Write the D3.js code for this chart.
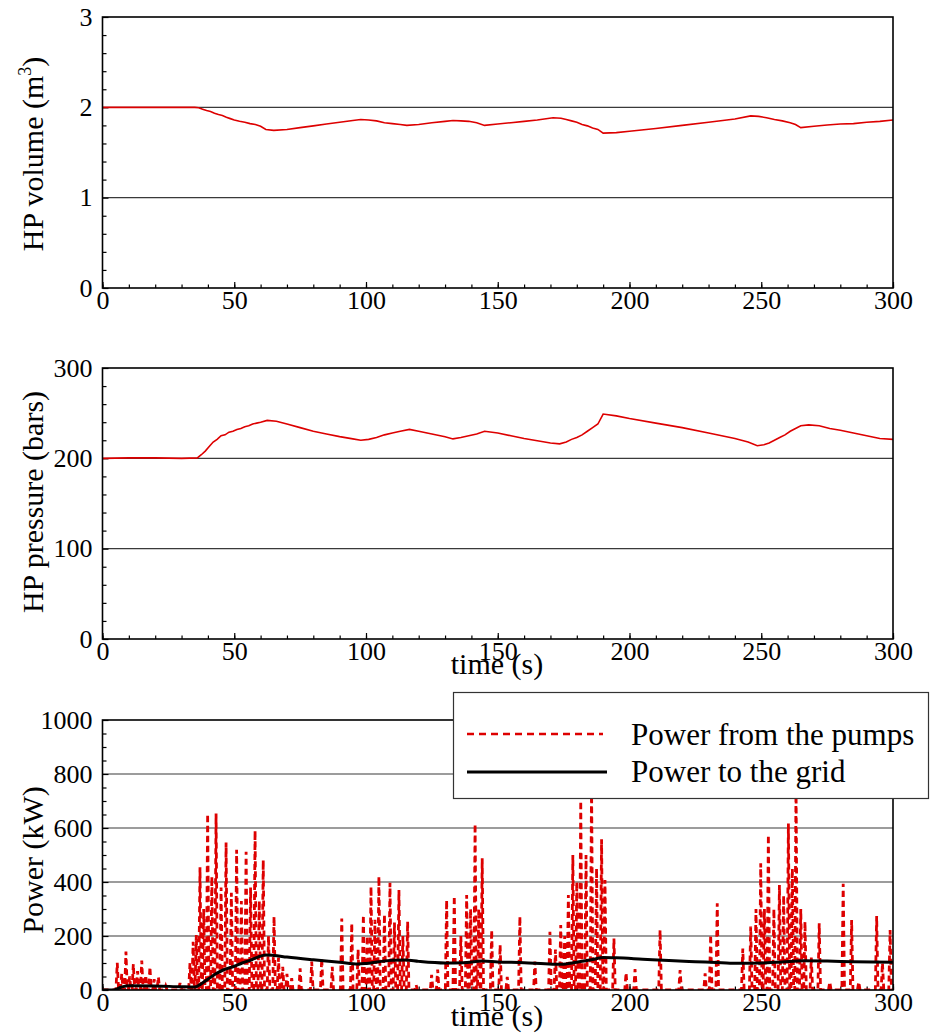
<!DOCTYPE html>
<html>
<head>
<meta charset="utf-8">
<script src="https://cdn.jsdelivr.net/npm/d3@7"></script>
<style>
  html, body { margin: 0; padding: 0; background: #fff; }
  svg { display: block; }
  text { font-family: "Liberation Serif", "Times New Roman", serif; fill: #000; }
</style>
</head>
<body>
<div id="chart"></div>
<script>
// ---------------- DATA ----------------
const xTicks = [0, 50, 100, 150, 200, 250, 300];
const volumeTicks = [0, 1, 2, 3];
const pressureTicks = [0, 100, 200, 300];
const powerTicks = [0, 200, 400, 600, 800, 1000];

// HP volume (m3) vs time (s)
const volumeTime = [0, 10, 20, 30, 35, 36.5, 38, 39.5, 41, 42.5, 44, 45.5, 47, 48.5, 50, 52, 54, 56, 58, 60, 62, 65, 70, 75, 80, 85, 90, 95, 98, 101, 104, 107, 110, 113, 115.5, 120, 125, 130, 133, 136, 139, 142, 145, 150, 155, 160, 165, 171, 174, 176, 178, 180, 182, 184, 186, 188, 190, 195, 200, 210, 220, 230, 240, 246, 249, 252, 255, 258, 261, 263, 265, 270, 275, 280, 285, 290, 295, 300];
const volumeValue = [2.0, 2.0, 2.0, 2.0, 2.0, 1.995, 1.98, 1.965, 1.955, 1.935, 1.92, 1.91, 1.89, 1.875, 1.86, 1.845, 1.835, 1.82, 1.81, 1.79, 1.755, 1.745, 1.755, 1.775, 1.795, 1.815, 1.835, 1.855, 1.865, 1.86, 1.85, 1.83, 1.82, 1.81, 1.80, 1.81, 1.83, 1.845, 1.855, 1.85, 1.845, 1.83, 1.80, 1.815, 1.83, 1.845, 1.86, 1.885, 1.88, 1.865, 1.85, 1.835, 1.81, 1.795, 1.77, 1.755, 1.715, 1.72, 1.735, 1.765, 1.80, 1.835, 1.87, 1.905, 1.90, 1.885, 1.865, 1.85, 1.83, 1.81, 1.775, 1.79, 1.805, 1.815, 1.82, 1.835, 1.845, 1.86];

// HP pressure (bars) vs time (s)
const pressureTime = [0, 10, 20, 30, 36, 37.5, 39, 40.5, 42, 43.5, 45, 46.5, 48, 49.5, 51, 52.5, 54, 55.5, 57, 58.5, 60, 62.5, 66, 70, 75, 80, 85, 90, 95, 98, 101, 104, 107, 110, 113, 116.5, 120, 125, 130, 133, 136, 139, 142, 145, 150, 155, 160, 165, 170, 173.5, 176, 178, 180, 182, 184, 186, 188, 190, 195, 200, 210, 220, 230, 240, 245, 248.5, 251, 253, 255, 257, 259, 261, 263, 265, 268, 272, 276, 280, 285, 290, 295, 300];
const pressureValue = [200, 200.5, 200.5, 200, 200.5, 204, 208, 213, 218, 221, 225, 226, 229, 230, 232, 233, 235, 236, 238, 239, 240, 242, 241, 238, 234, 230, 227, 224, 221.5, 220, 221, 223, 226, 228, 230, 232, 230, 227, 224, 221.5, 223, 225, 227, 230, 228, 225, 222, 219.5, 217, 216, 218, 221, 223, 226, 230, 234, 238, 249, 247, 244, 239, 234, 228, 222, 218, 214, 215, 217, 220, 223, 226, 230, 233, 236, 237, 236, 233, 231, 228, 225, 222, 221];

// Power to the grid (kW) vs time (s)
const gridTime = [0, 4, 7, 10, 20, 30, 35, 37, 40, 43, 46, 50, 53, 56, 59, 62, 65, 70, 80, 90, 97, 100, 105, 110, 115, 120, 130, 137, 144, 150, 160, 168, 174, 180, 186, 190, 195, 205, 215, 225, 235, 241, 250, 258, 266, 275, 285, 300];
const gridValue = [0, 0, 10, 16, 15, 12, 11, 20, 40, 60, 75, 88, 100, 110, 122, 130, 128, 122, 112, 103, 96, 98, 105, 110, 111, 106, 100, 101, 107, 104, 101, 97, 95, 103, 113, 120, 119, 114, 109, 105, 101, 99, 100, 104, 108, 107, 105, 103];

// Power from the pumps (kW): [time (s), power (kW)]
const pumpPoints = [
[0,0],
[5.1,0],[5.6,101],[6.1,0], [6.8,0],[7.3,60],[7.8,0], [8.4,0],[8.9,142],[9.4,0],
[9.8,0],[10.3,50],[10.8,0], [11.2,0],[11.7,96],[12.2,0], [12.8,0],[13.3,70],[13.8,0],
[14.4,0],[14.9,109],[15.4,0], [15.9,0],[16.4,55],[16.9,0], [17.5,0],[18,86],[18.5,0],
[19.1,0],[19.6,40],[20.1,0], [20.7,0],[21.2,49],[21.7,0], [23.5,0],[24,15],[24.5,0],
[28.9,0],[29.4,26],[29.9,0], [32.7,0],[33.2,100],[33.7,0], [33.9,0],[34.4,179],[34.9,0],
[35.1,0],[35.6,204],[36.1,0], [36.5,0],[37,455],[37.5,0], [37.9,0],[38.4,300],[38.9,0],
[39.4,0],[39.9,652],[40.4,0], [41,0],[41.5,420],[42,0], [42.6,0],[43.1,654],[43.6,0],
[44.5,0],[45,380],[45.5,0], [46.4,0],[46.9,546],[47.4,0], [48.4,0],[48.9,360],[49.4,0],
[50.4,0],[50.9,519],[51.4,0], [52.2,0],[52.7,330],[53.2,0], [54,0],[54.5,512],[55,0],
[55.7,0],[56.2,380],[56.7,0], [57.4,0],[57.9,590],[58.4,0], [59,0],[59.5,330],[60,0],
[60.5,0],[61,481],[61.5,0], [62.5,0],[63,200],[63.5,0], [64.6,0],[65.1,272],[65.6,0],
[66.3,0],[66.8,120],[67.3,0], [67.9,0],[68.4,86],[68.9,0], [69.5,0],[70,60],[70.5,0],
[71.3,0],[71.8,44],[72.3,0], [74.5,0],[75,80],[75.5,0], [78.9,0],[79.4,105],[79.9,0],
[82.7,0],[83.2,117],[83.7,0], [86.7,0],[87.2,86],[87.7,0], [90.3,0],[90.8,265],[91.3,0],
[94.1,0],[94.6,247],[95.1,0], [96.5,0],[97,150],[97.5,0], [98.5,0],[99,278],[99.5,0],
[100,0],[100.5,200],[101,0], [101.4,0],[101.9,383],[102.4,0], [102.9,0],[103.4,260],[103.9,0],
[104.4,0],[104.9,420],[105.4,0], [106.5,0],[107,280],[107.5,0], [108.6,0],[109.1,397],[109.6,0],
[110.3,0],[110.8,250],[111.3,0], [112,0],[112.5,370],[113,0], [113.5,0],[114,200],[114.5,0],
[115.3,0],[115.8,253],[116.3,0], [118.5,0],[119,20],[119.5,0], [124.4,0],[124.9,56],[125.4,0],
[126.7,0],[127.2,76],[127.7,0], [130.1,0],[130.6,333],[131.1,0], [133,0],[133.5,348],[134,0],
[135.5,0],[136,200],[136.5,0], [137.7,0],[138.2,352],[138.7,0], [139.2,0],[139.7,300],[140.2,0],
[140.9,0],[141.4,615],[141.9,0], [142.3,0],[142.8,300],[143.3,0], [143.6,0],[144.1,488],[144.6,0],
[147.2,0],[147.7,222],[148.2,0], [150.4,0],[150.9,167],[151.4,0], [153.1,0],[153.6,49],[154.1,0],
[157.9,0],[158.4,272],[158.9,0], [163.6,0],[164.1,105],[164.6,0], [169.3,0],[169.8,216],[170.3,0],
[171.4,0],[171.9,150],[172.4,0], [173.4,0],[173.9,241],[174.4,0], [174.9,0],[175.4,200],[175.9,0],
[176.3,0],[176.8,352],[177.3,0], [178,0],[178.5,500],[179,0], [179.5,0],[180,400],[180.5,0],
[181,0],[181.5,700],[182,0], [183,0],[183.5,500],[184,0], [185.1,0],[185.6,760],[186.1,0],
[187,0],[187.5,450],[188,0], [188.9,0],[189.4,558],[189.9,0], [190.2,0],[190.7,407],[191.2,0],
[193.6,0],[194.1,191],[194.6,0], [198.2,0],[198.7,64],[199.2,0], [201.6,0],[202.1,77],[202.6,0],
[211.1,0],[211.6,222],[212.1,0], [218.7,0],[219.2,74],[219.7,0], [228.2,0],[228.7,62],[229.2,0],
[230.3,0],[230.8,204],[231.3,0], [232.8,0],[233.3,321],[233.8,0], [242.5,0],[243,154],[243.5,0],
[245.5,0],[246,235],[246.5,0], [247.5,0],[248,300],[248.5,0], [249.3,0],[249.8,469],[250.3,0],
[250.7,0],[251.2,300],[251.7,0], [252.2,0],[252.7,574],[253.2,0], [254.3,0],[254.8,300],[255.3,0],
[256.4,0],[256.9,389],[257.4,0], [258,0],[258.5,350],[259,0], [259.8,0],[260.3,617],[260.8,0],
[261.3,0],[261.8,450],[262.3,0], [262.7,0],[263.2,760],[263.7,0], [264.5,0],[265,300],[265.5,0],
[266.1,0],[266.6,253],[267.1,0], [268.5,0],[269,120],[269.5,0], [271.5,0],[272,247],[272.5,0],
[275.5,0],[276,30],[276.5,0], [280.6,0],[281.1,393],[281.6,0], [283.8,0],[284.3,259],[284.8,0],
[286.5,0],[287,30],[287.5,0], [293.3,0],[293.8,274],[294.3,0], [295.5,0],[296,100],[296.5,0],
[298.4,0],[298.9,222],[299.4,0],
[300,0]
];

const legendLabels = ["Power from the pumps", "Power to the grid"];

// ---------------- DRAW ----------------
const SERIF = '"Liberation Serif", "Times New Roman", serif';
const W = 930, H = 1034;
const svg = d3.select("#chart").append("svg").attr("width", W).attr("height", H);
const left = 102.5, right = 893;
const x = d3.scaleLinear().domain([0, 300]).range([left, right]);
const xMinor = d3.range(0, 301, 10);
const fmt = d3.format("d");

function styleAxis(a) {
  a.attr("font-family", null).attr("font-size", null);
  a.select(".domain").remove();
  a.selectAll("line").attr("stroke-width", 1.2).attr("stroke", "#000");
  a.selectAll("text").attr("font-family", SERIF).attr("font-size", 26)
    .style("font-family", SERIF).style("font-size", "26px").attr("fill", "#000");
}

function panel(cfg) {
  const y = d3.scaleLinear().domain(cfg.domain).range([cfg.bottom, cfg.top]);
  const g = svg.append("g");
  g.selectAll("line.grid").data(cfg.grid).enter().append("line")
    .attr("x1", left).attr("x2", right)
    .attr("y1", d => y(d)).attr("y2", d => y(d))
    .attr("stroke", "#3a3a3a").attr("stroke-width", 1.2);
  g.append("g").attr("transform", `translate(0,${cfg.bottom})`)
    .call(d3.axisBottom(x).tickValues(xMinor).tickSize(-3.5).tickSizeOuter(0).tickFormat(""))
    .call(styleAxis);
  g.append("g").attr("transform", `translate(${left},0)`)
    .call(d3.axisLeft(y).tickValues(cfg.minor).tickSize(-4).tickSizeOuter(0).tickFormat(""))
    .call(styleAxis);
  g.append("g").attr("transform", `translate(0,${cfg.bottom})`)
    .call(d3.axisBottom(x).tickValues(xTicks).tickFormat(fmt).tickSize(-6).tickSizeOuter(0).tickPadding(3))
    .call(styleAxis);
  g.append("g").attr("transform", `translate(${left},0)`)
    .call(d3.axisLeft(y).tickValues(cfg.ticks).tickFormat(fmt).tickSize(-6).tickSizeOuter(0).tickPadding(10))
    .call(styleAxis);
  const id = "clip" + cfg.top;
  svg.append("clipPath").attr("id", id).append("rect")
    .attr("x", left).attr("y", cfg.top).attr("width", right - left).attr("height", cfg.bottom - cfg.top);
  const plot = svg.append("g").attr("clip-path", `url(#${id})`);
  svg.append("rect").attr("x", left).attr("y", cfg.top)
    .attr("width", right - left).attr("height", cfg.bottom - cfg.top)
    .attr("fill", "none").attr("stroke", "#000").attr("stroke-width", 1.6);
  const t = svg.append("text")
    .attr("transform", `translate(43,${cfg.titleY}) rotate(-90)`)
    .attr("text-anchor", "middle").style("font-size", "30px");
  cfg.title(t);
  return { y, plot };
}

// Panel 1: volume
const p1 = panel({ top: 17, bottom: 288, domain: [0, 3], ticks: volumeTicks,
  minor: d3.range(0, 3.001, 0.2).map(v => +v.toFixed(1)).filter(v => !volumeTicks.includes(v)),
  grid: [1, 2], titleY: 154,
  title: t => { t.append("tspan").text("HP volume (m");
                t.append("tspan").attr("dy", -12).style("font-size", "18px").text("3");
                t.append("tspan").attr("dy", 12).text(")"); } });
p1.plot.append("path")
  .datum(d3.zip(volumeTime, volumeValue))
  .attr("fill", "none").attr("stroke", "#dd0000").attr("stroke-width", 1.6)
  .attr("d", d3.line().x(d => x(d[0])).y(d => p1.y(d[1])));

// Panel 2: pressure
const p2 = panel({ top: 368, bottom: 639, domain: [0, 300], ticks: pressureTicks,
  minor: d3.range(0, 301, 20).filter(v => !pressureTicks.includes(v)),
  grid: [100, 200], titleY: 502,
  title: t => t.text("HP pressure (bars)") });
p2.plot.append("path")
  .datum(d3.zip(pressureTime, pressureValue))
  .attr("fill", "none").attr("stroke", "#dd0000").attr("stroke-width", 1.6)
  .attr("d", d3.line().x(d => x(d[0])).y(d => p2.y(d[1])));
svg.append("text").attr("x", 497).attr("y", 674).attr("text-anchor", "middle")
  .style("font-size", "30px").text("time (s)");

// Panel 3: power
const p3 = panel({ top: 720, bottom: 990, domain: [0, 1000], ticks: powerTicks,
  minor: d3.range(0, 1001, 50).filter(v => !powerTicks.includes(v)),
  grid: [200, 400, 600, 800], titleY: 860,
  title: t => t.text("Power (kW)") });
p3.plot.append("path")
  .datum(pumpPoints)
  .attr("fill", "none").attr("stroke", "#dd0000").attr("stroke-width", 2.8)
  .attr("stroke-dasharray", "6,4")
  .attr("d", d3.line().x(d => x(d[0])).y(d => p3.y(d[1])));
p3.plot.append("path")
  .datum(d3.zip(gridTime, gridValue))
  .attr("fill", "none").attr("stroke", "#000").attr("stroke-width", 3)
  .attr("d", d3.line().curve(d3.curveMonotoneX).x(d => x(d[0])).y(d => p3.y(d[1])));
svg.append("text").attr("x", 497).attr("y", 1026).attr("text-anchor", "middle")
  .style("font-size", "30px").text("time (s)");

// Legend
const lg = svg.append("g");
lg.append("rect").attr("x", 453.5).attr("y", 692.5).attr("width", 475).attr("height", 106)
  .attr("fill", "#fff").attr("stroke", "#333").attr("stroke-width", 1.2);
lg.append("line").attr("x1", 467).attr("x2", 603).attr("y1", 734).attr("y2", 734)
  .attr("stroke", "#dd0000").attr("stroke-width", 2.4).attr("stroke-dasharray", "7,5");
lg.append("line").attr("x1", 467).attr("x2", 607).attr("y1", 772).attr("y2", 772)
  .attr("stroke", "#000").attr("stroke-width", 3);
lg.selectAll("text.leg").data(legendLabels).enter().append("text")
  .attr("x", 631).attr("y", (d, i) => 745 + i * 37)
  .style("font-size", "31px").text(d => d);
</script>
</body>
</html>
